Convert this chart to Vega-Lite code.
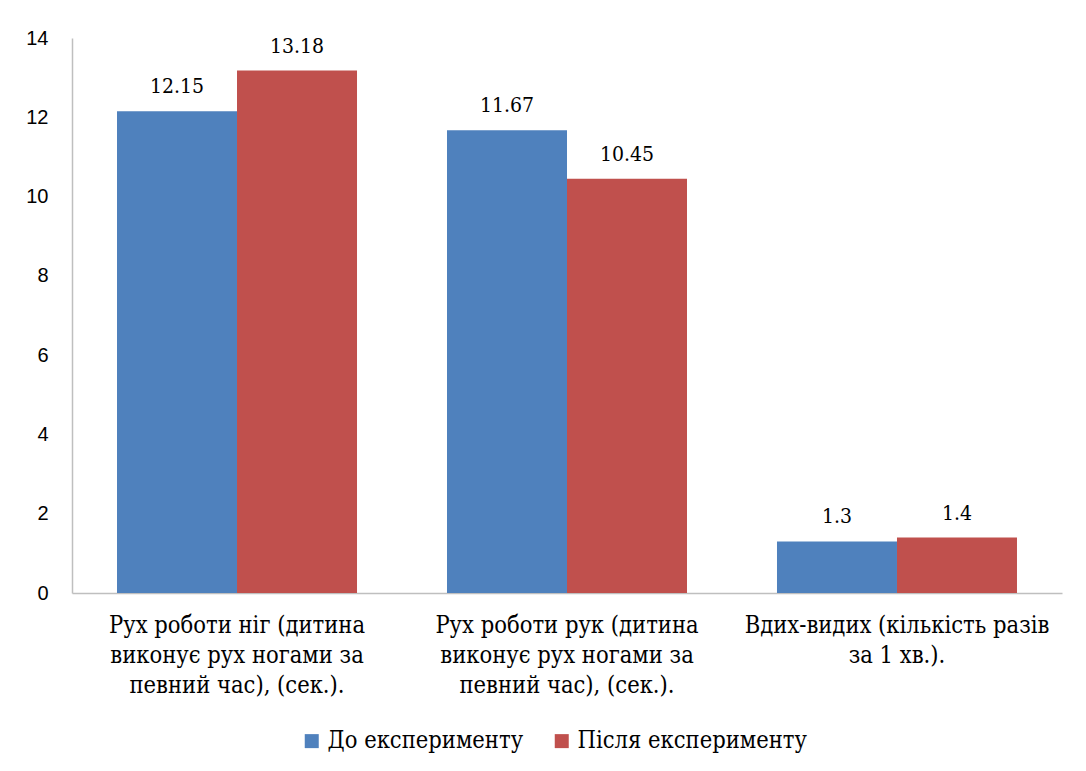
{
  "$schema": "https://vega.github.io/schema/vega-lite/v6.json",
  "autosize": "none",
  "width": 990,
  "height": 555,
  "padding": {"left": 72, "top": 38, "right": 24, "bottom": 178},
  "background": "white",
  "config": {"view": {"stroke": null}},
  "data": {
    "values": [
      {"cat": "Рух роботи ніг (дитина|виконує рух ногами за|певний час), (сек.).", "order": 1, "series": "До експерименту", "s": 0, "value": 12.15, "lab": "12.15"},
      {"cat": "Рух роботи ніг (дитина|виконує рух ногами за|певний час), (сек.).", "order": 1, "series": "Після експерименту", "s": 1, "value": 13.18, "lab": "13.18"},
      {"cat": "Рух роботи рук (дитина|виконує рух ногами за|певний час), (сек.).", "order": 2, "series": "До експерименту", "s": 0, "value": 11.67, "lab": "11.67"},
      {"cat": "Рух роботи рук (дитина|виконує рух ногами за|певний час), (сек.).", "order": 2, "series": "Після експерименту", "s": 1, "value": 10.45, "lab": "10.45"},
      {"cat": "Вдих-видих (кількість разів|за 1 хв.).", "order": 3, "series": "До експерименту", "s": 0, "value": 1.3, "lab": "1.3"},
      {"cat": "Вдих-видих (кількість разів|за 1 хв.).", "order": 3, "series": "Після експерименту", "s": 1, "value": 1.4, "lab": "1.4"}
    ]
  },
  "encoding": {
    "x": {
      "field": "cat", "type": "nominal", "sort": {"field": "order"},
      "scale": {"paddingInner": 0.2727, "paddingOuter": 0.1364},
      "axis": {
        "title": null, "labelAngle": 0, "ticks": false, "domainColor": "#bfbfbf", "domainWidth": 1.5,
        "labelFont": "DejaVu Serif Condensed", "labelFontSize": 23.5, "labelColor": "#000000",
        "labelExpr": "split(datum.label, '|')", "labelLineHeight": 30, "labelPadding": 20, "labelLimit": 400
      }
    },
    "xOffset": {"field": "series", "type": "nominal", "sort": {"field": "s"}},
    "y": {
      "field": "value", "type": "quantitative",
      "scale": {"domain": [0, 14]},
      "axis": {
        "title": null, "values": [0, 2, 4, 6, 8, 10, 12, 14], "grid": false, "ticks": false,
        "domainColor": "#bfbfbf", "domainWidth": 1.5,
        "labelFont": "Liberation Sans", "labelFontSize": 20, "labelColor": "#000000", "labelPadding": 24
      }
    }
  },
  "layer": [
    {
      "mark": {"type": "bar"},
      "encoding": {
        "color": {
          "field": "series", "type": "nominal", "sort": {"field": "s"},
          "scale": {"domain": ["До експерименту", "Після експерименту"], "range": ["#4F81BD", "#C0504D"]},
          "legend": {
            "title": null, "orient": "none", "direction": "horizontal", "legendX": 228, "legendY": 691,
            "symbolType": "square", "symbolSize": 196, "symbolStrokeWidth": 0,
            "labelFont": "DejaVu Serif Condensed", "labelFontSize": 23.5, "labelColor": "#000000",
            "columnPadding": 26, "labelOffset": 4, "labelLimit": 400
          }
        }
      }
    },
    {
      "mark": {"type": "text", "baseline": "bottom", "dy": -14, "font": "DejaVu Serif Condensed", "fontSize": 21, "color": "#000000"},
      "encoding": {"text": {"field": "lab"}}
    }
  ]
}
